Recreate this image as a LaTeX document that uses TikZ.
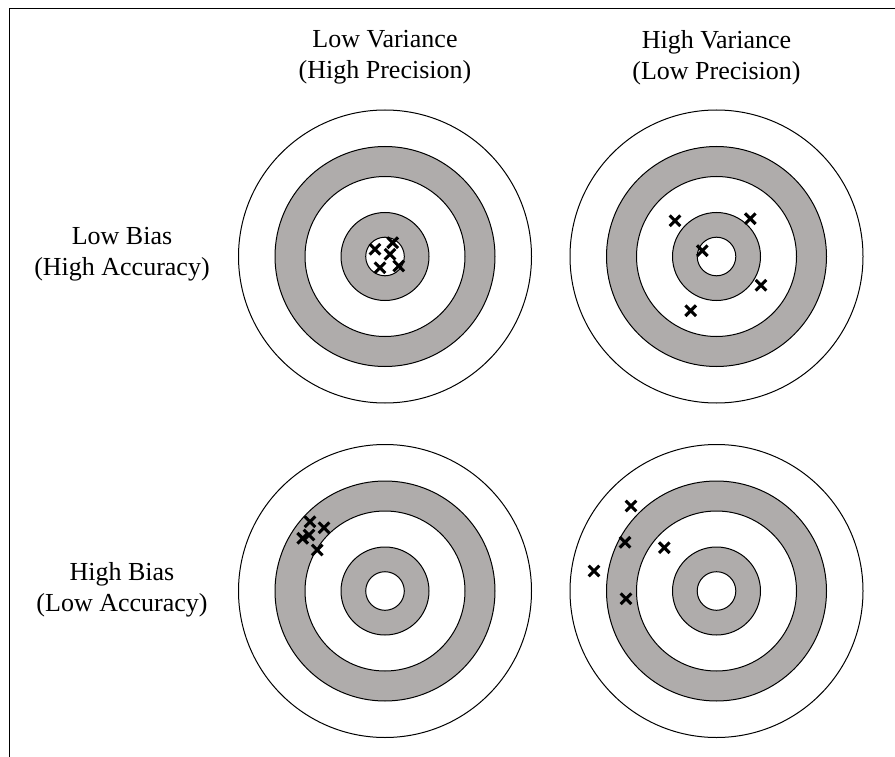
\documentclass[tikz,border=0pt]{standalone}
\usepackage{fontspec}
\setmainfont{Liberation Serif}
\definecolor{tgray}{RGB}{175,172,171}
\begin{document}
\begin{tikzpicture}[x=1pt,y=-1pt,
  ring/.style={draw=black, line width=1pt},
  hit/.style={line width=3.1pt, line cap=butt},
  lbl/.style={font=\fontsize{26}{31}\selectfont, align=center, inner sep=0pt},
  frame/.style={line width=1.8pt},
  target/.pic={
    \draw[ring, fill=white] (0,0) circle (146.5pt);
    \draw[ring, fill=tgray] (0,0) circle (110pt);
    \draw[ring, fill=white] (0,0) circle (80pt);
    \draw[ring, fill=tgray] (0,0) circle (44pt);
    \draw[ring, fill=white] (0,0) circle (19.3pt);
  },
  xmark/.pic={\draw[hit] (-5.3,-5.3) -- (5.3,5.3) (-5.3,5.3) -- (5.3,-5.3);}
]
\useasboundingbox (0,0) rectangle (895,757);
\coordinate (f1) at (9.5,757);
\coordinate (f2) at (9.5,8.5);
\coordinate (f3) at (895,8.5);
\draw[frame] (f1) -- (f2) -- (f3);

\node[lbl] (h1) at (385,57.5) {Low Variance\\(High Precision)};
\node[lbl] (h2) at (716.5,57.5) {High Variance\\(Low Precision)};
\node[lbl] (r1) at (122,254) {Low Bias\\(High Accuracy)};
\node[lbl] (r2) at (122,590) {High Bias\\(Low Accuracy)};

\pic (tl) at (385,256.5) {target};
\pic (tr) at (716.5,256.5) {target};
\pic (bl) at (385,591) {target};
\pic (br) at (716.5,591) {target};

% top-left hits
\foreach \p in {(375,249.3),(392.7,242.7),(390,254.3),(380,267.7),(398.7,266)}
  \pic at \p {xmark};
% top-right hits
\foreach \p in {(675,220.7),(750.3,218.7),(702.3,250.7),(761,285.3),(690.7,310.7)}
  \pic at \p {xmark};
% bottom-left hits
\foreach \p in {(310,521.7),(324,527.7),(309,535),(302.7,538.3),(317.3,550)}
  \pic at \p {xmark};
% bottom-right hits
\foreach \p in {(631,506),(625,542.3),(664.3,547.7),(594,571),(626,598.7)}
  \pic at \p {xmark};
\end{tikzpicture}
\end{document}
